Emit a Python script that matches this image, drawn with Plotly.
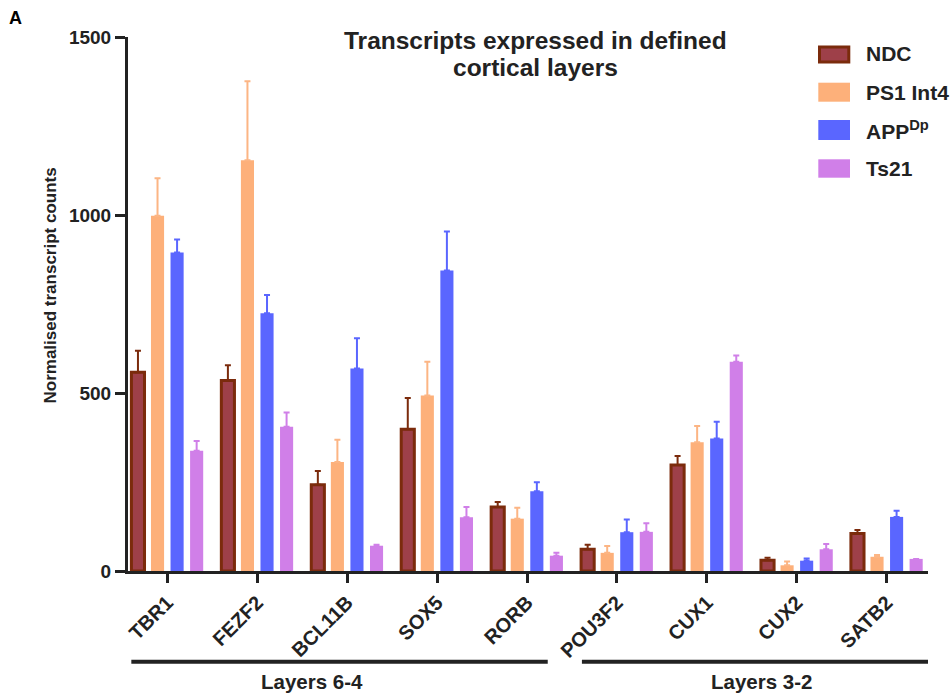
import plotly.graph_objects as go

# ---------------- data ----------------
genes = ["TBR1", "FEZF2", "BCL11B", "SOX5", "RORB", "POU3F2", "CUX1", "CUX2", "SATB2"]

ndc = [558, 535, 242, 398, 180, 61, 298, 30, 105]
ndc_err = [61, 43, 39, 88, 14, 13, 25, 7, 10]

ps1 = [998, 1154, 306, 493, 147, 51, 362, 16, 40]
ps1_err = [105, 222, 63, 95, 31, 19, 45, 11, 5]

app = [895, 724, 569, 844, 224, 109, 372, 29, 152]
app_err = [36, 51, 85, 110, 25, 36, 47, 6, 17]

ts21 = [338, 405, 71, 151, 43, 110, 588, 61, 34]
ts21_err = [27, 40, 3, 29, 8, 24, 17, 15, 0]

series_names = ["NDC", "PS1 Int4", "APP<sup>Dp</sup>", "Ts21"]
y_ticks = [0, 500, 1000, 1500]
groups = ["Layers 6-4", "Layers 3-2"]

# ---------------- style ----------------
W, H = 952, 695
ML, MR, MT, MB = 128, 24, 37, 124
PW, PH = W - ML - MR, H - MT - MB
FONT = "Liberation Sans, Arial, Helvetica, sans-serif"
DARK = "#222222"

NDC_FILL, NDC_LINE = "#9e4049", "#7b2b0c"
PS1_C = "#fdb07a"
APP_C = "#5a66ff"
TS_C = "#d07fe8"


def px_x(x):
    return (x - ML) / PW


def px_y(y):
    return (H - MB - y) / PH


fig = go.Figure()

specs = [
    (series_names[0], ndc, ndc_err, NDC_FILL, NDC_LINE, 3, NDC_LINE),
    (series_names[1], ps1, ps1_err, PS1_C, PS1_C, 0, "#fcb584"),
    (series_names[2], app, app_err, APP_C, APP_C, 0, APP_C),
    (series_names[3], ts21, ts21_err, TS_C, TS_C, 0, TS_C),
]
for name, vals, errs, fill, line, lw, ecol in specs:
    fig.add_trace(go.Bar(
        x=genes, y=vals, name=name, showlegend=False,
        marker=dict(color=fill, line=dict(color=line, width=lw)),
        error_y=dict(type="data", symmetric=False, array=errs,
                     arrayminus=[0] * len(errs), color=ecol,
                     thickness=2, width=3),
    ))

# custom legend (large swatches like the reference)
legend_rows = [
    (series_names[0], NDC_FILL, NDC_LINE, 45.7, 63.3, 54),
    (series_names[1], PS1_C, PS1_C, 82.7, 101.7, 92),
    (series_names[2], APP_C, APP_C, 120, 140, 130),
    (series_names[3], TS_C, TS_C, 159.3, 177.7, 168),
]
shapes = []
annotations = []
for i, (name, fill, line, y0, y1, yc) in enumerate(legend_rows):
    shapes.append(dict(
        type="rect", xref="paper", yref="paper",
        x0=px_x(819.5 if i == 0 else 818.3), x1=px_x(848.8 if i == 0 else 850),
        y0=px_y(y1 - (1.2 if i == 0 else 0)), y1=px_y(y0 + (1.2 if i == 0 else 0)),
        fillcolor=fill, line=dict(color=line, width=3 if i == 0 else 0),
    ))
    annotations.append(dict(
        text=f"<b>{name}</b>", xref="paper", yref="paper",
        x=px_x(864), y=px_y(yc), xanchor="left", yanchor="middle",
        showarrow=False, font=dict(family=FONT, size=21, color=DARK),
    ))

# group brackets under the axis
shapes.append(dict(type="line", xref="x", yref="paper", x0=-0.40, x1=4.23,
                   y0=px_y(661.7), y1=px_y(661.7), line=dict(color=DARK, width=4)))
shapes.append(dict(type="line", xref="x", yref="paper", x0=4.61, x1=8.47,
                   y0=px_y(661.7), y1=px_y(661.7), line=dict(color=DARK, width=4)))
annotations.append(dict(text=f"<b>{groups[0]}</b>", xref="x", yref="paper",
                        x=1.606, y=px_y(681), xanchor="center", yanchor="middle",
                        showarrow=False, font=dict(family=FONT, size=20.5, color=DARK)))
annotations.append(dict(text=f"<b>{groups[1]}</b>", xref="x", yref="paper",
                        x=6.612, y=px_y(681), xanchor="center", yanchor="middle",
                        showarrow=False, font=dict(family=FONT, size=20.5, color=DARK)))

# title (two lines)
annotations.append(dict(text="<b>Transcripts expressed in defined</b>", xref="paper", yref="paper",
                        x=px_x(535), y=px_y(40), xanchor="center", yanchor="middle",
                        showarrow=False, font=dict(family=FONT, size=24.5, color=DARK)))
annotations.append(dict(text="<b>cortical layers</b>", xref="paper", yref="paper",
                        x=px_x(535), y=px_y(67), xanchor="center", yanchor="middle",
                        showarrow=False, font=dict(family=FONT, size=24.5, color=DARK)))

# y-axis title
annotations.append(dict(text="<b>Normalised transcript counts</b>", xref="paper", yref="paper",
                        x=px_x(50), y=px_y(285.5), xanchor="center", yanchor="middle",
                        textangle=-90, showarrow=False,
                        font=dict(family=FONT, size=17, color=DARK)))

# panel letter
annotations.append(dict(text="<b>A</b>", xref="paper", yref="paper",
                        x=px_x(15), y=px_y(18), xanchor="center", yanchor="middle",
                        showarrow=False, font=dict(family=FONT, size=18, color="#000")))

fig.update_layout(
    width=W, height=H,
    margin=dict(l=ML, r=MR, t=MT, b=MB),
    paper_bgcolor="white", plot_bgcolor="white",
    barmode="group", bargap=0.13, bargroupgap=0.33,
    font=dict(family=FONT, color=DARK),
    shapes=shapes, annotations=annotations,
    xaxis=dict(
        range=[-0.437, 8.458], showgrid=False, zeroline=False,
        showline=True, linecolor=DARK, linewidth=3,
        ticks="outside", ticklen=9, tickwidth=3, tickcolor=DARK,
        tickangle=-45,
        tickfont=dict(family=FONT, size=20, color=DARK, weight="bold"),
    ),
    yaxis=dict(
        range=[0, 1500], tickvals=y_ticks, showgrid=False, zeroline=False,
        showline=True, linecolor=DARK, linewidth=3,
        ticks="outside", ticklen=10, tickwidth=3, tickcolor=DARK,
        tickfont=dict(family=FONT, size=19, color=DARK, weight="bold"),
    ),
)

fig.write_html("out.html")
